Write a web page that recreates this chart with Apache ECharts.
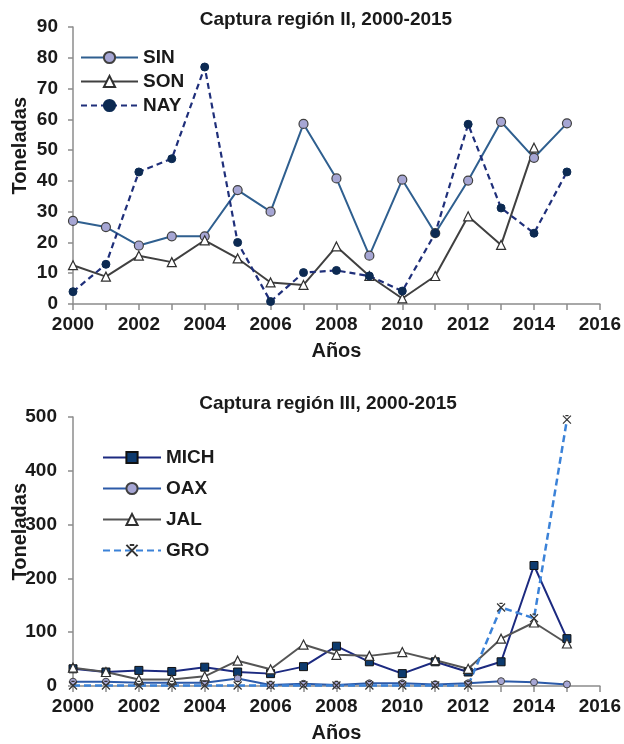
<!DOCTYPE html>
<html><head><meta charset="utf-8">
<script src="https://cdn.jsdelivr.net/npm/echarts@6/dist/echarts.min.js"></script>
<style>html,body{margin:0;padding:0;background:#fff}#c{width:624px;height:744px}</style>
</head><body><div id="c"></div>
<script>
const years = [2000,2001,2002,2003,2004,2005,2006,2007,2008,2009,2010,2011,2012,2013,2014,2015];
const sin = [27,25,19,22,22,37,30,58.5,40.8,15.7,40.4,23,40.1,59.2,47.5,58.7];
const son = [12.6,8.9,15.7,13.6,20.7,14.8,7,6.2,18.7,9.1,1.8,9.1,28.5,19.2,50.8,null];
const nay = [4,12.9,42.9,47.2,77,20,0.8,10.2,10.9,9.1,4.2,23,58.4,31.2,23,42.9];
const mich = [32,26,29,27,35,26,23,36,74,45,23,45,26,45,224,88];
const oax = [8,8,6,6,6,14,2,4,2,5,5,3,5,9,7,3];
const jal = [34,26,12,12,18,47,31,77,58,56,63,48,32,88,118,79];
const gro = [1,1,1,1,1,1,1,1,1,1,1,1,1,146,126,495];
const title1 = 'Captura región II, 2000-2015';
const title2 = 'Captura región III, 2000-2015';
const yName = 'Toneladas';
const xName = 'Años';

const F = 'Liberation Sans';
const TC = '#1a1a1a';
const pts = v => years.map((y,i)=>[y, v[i]]);
const chart = echarts.init(document.getElementById('c'), null, {renderer:'canvas'});
const axisCol = '#8c8c8c';
function xAxis(gi){
  return {type:'value', gridIndex:gi, min:2000, max:2016, interval:2,
    axisLine:{show:true, onZero:false, lineStyle:{color:axisCol, width:1.5}},
    axisTick:{show:true, inside:false, length:6, lineStyle:{color:axisCol, width:1.5}},
    minorTick:{show:true, splitNumber:2, length:6, lineStyle:{color:axisCol, width:1.5}},
    splitLine:{show:false},
    axisLabel:{fontFamily:F, fontWeight:'bold', fontSize:19, color:TC, margin:11, formatter:v=>String(v)},
    name:xName, nameLocation:'middle', nameGap:37,
    nameTextStyle:{fontFamily:F, fontWeight:'bold', fontSize:20, color:TC}};
}
function yAxis(gi, max, interval, margin){
  return {type:'value', gridIndex:gi, min:0, max:max, interval:interval,
    axisLine:{show:true, lineStyle:{color:axisCol, width:1.5}},
    axisTick:{show:true, length:5, lineStyle:{color:axisCol, width:1.5}},
    splitLine:{show:false},
    axisLabel:{fontFamily:F, fontWeight:'bold', fontSize:19, color:TC, margin:margin}};
}
function ser(name, data, gi, o){
  return Object.assign({name:name, type:'line', xAxisIndex:gi, yAxisIndex:gi, data:pts(data),
    connectNulls:false, animation:false, z:2}, o);
}
const option = {
  animation:false,
  title:[
    {text:title1, left:321, top:5, textAlign:'center', textStyle:{fontFamily:F, fontWeight:'bold', fontSize:19, color:TC}},
    {text:title2, left:323, top:389, textAlign:'center', textStyle:{fontFamily:F, fontWeight:'bold', fontSize:19, color:TC}}
  ],
  grid:[
    {left:73, right:21, top:27, height:277},
    {left:73, right:21, top:417, height:271}
  ],
  xAxis:[xAxis(0), xAxis(1)],
  yAxis:[yAxis(0,90,10,15), yAxis(1,500,100,16)],
  legend:[
    {data:['SIN','SON','NAY'], orient:'vertical', left:75, top:43, itemWidth:57, itemHeight:14, itemGap:5,
      textStyle:{fontFamily:F, fontWeight:'bold', fontSize:19, color:TC}},
    {data:['MICH','OAX','JAL','GRO'], orient:'vertical', left:97, top:443, itemWidth:58, itemHeight:14, itemGap:12,
      textStyle:{fontFamily:F, fontWeight:'bold', fontSize:19, color:TC}}
  ],
  graphic:[
    {type:'text', left:10, top:97, rotation:Math.PI/2, style:{text:yName, font:'bold 20px "Liberation Sans"', fill:TC}},
    {type:'text', left:10, top:483, rotation:Math.PI/2, style:{text:yName, font:'bold 20px "Liberation Sans"', fill:TC}}
  ],
  series:[
    ser('SIN', sin, 0, {symbol:'circle', symbolSize:9, lineStyle:{color:'#2f5f8f', width:2},
      itemStyle:{color:'#a6a6d4', borderColor:'#404040', borderWidth:1.2}}),
    ser('SON', son, 0, {symbol:'triangle', symbolSize:9, lineStyle:{color:'#404040', width:2},
      itemStyle:{color:'#ffffff', borderColor:'#303030', borderWidth:1.2}}),
    ser('NAY', nay, 0, {symbol:'circle', symbolSize:8, lineStyle:{color:'#1f2f7a', width:2.2, type:[6,4]},
      itemStyle:{color:'#0c2a52', borderColor:'#0c2a52', borderWidth:1}}),
    ser('MICH', mich, 1, {symbol:'rect', symbolSize:8, lineStyle:{color:'#1c2a80', width:2},
      itemStyle:{color:'#0d3a6e', borderColor:'#111', borderWidth:1}}),
    ser('OAX', oax, 1, {symbol:'circle', symbolSize:7, lineStyle:{color:'#2c5aa8', width:2},
      itemStyle:{color:'#a6a6d4', borderColor:'#404040', borderWidth:1}}),
    ser('JAL', jal, 1, {symbol:'triangle', symbolSize:9, lineStyle:{color:'#555555', width:2},
      itemStyle:{color:'#ffffff', borderColor:'#303030', borderWidth:1.2}}),
    ser('GRO', gro, 1, {symbol:'path://M0,0L10,10M10,0L0,10M3,0L7,0', symbolSize:8, lineStyle:{color:'#3b82d8', width:2.5, type:[7,4]},
      itemStyle:{color:'#ffffff', borderColor:'#333', borderWidth:1.2}})
  ]
};
chart.setOption(option);
</script></body></html>
